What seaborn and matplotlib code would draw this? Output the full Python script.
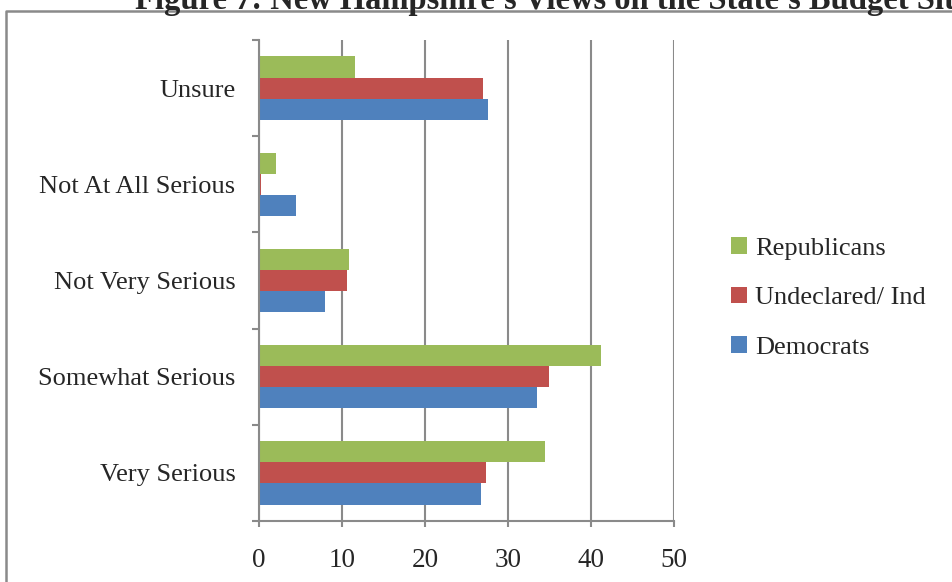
import pandas as pd
import numpy as np
import seaborn as sb
import matplotlib.pyplot as plt
from matplotlib.lines import Line2D

# survey answers, top to bottom as in the chart
responses = ['Unsure', 'Not At All Serious', 'Not Very Serious', 'Somewhat Serious', 'Very Serious']
parties = ['Republicans', 'Undeclared/ Ind', 'Democrats']

republicans = [11.6, 2.1, 10.8, 41.2, 34.4]
undeclared = [27.0, 0.2, 10.6, 35.0, 27.3]
democrats = [27.6, 4.4, 8.0, 33.5, 26.7]

party_colors = ['#9BBB59', '#C0504D', '#4F81BD']
title = "Figure 7: New Hampshire's Views on the State's Budget Situation"

rows = []
for party, vals in zip(parties, [republicans, undeclared, democrats]):
    for resp, v in zip(responses, vals):
        rows.append({'Response': resp, 'Party': party, 'Percent': v})
data = pd.DataFrame(rows)

sb.set_style('white')
plt.rcParams['font.family'] = ['Liberation Serif', 'DejaVu Serif']

fig = plt.figure(figsize=(9.53, 5.82), dpi=100)
ax = fig.add_axes([259/953, 1 - 521/582, (674 - 259)/953, (521 - 40)/582])

sb.barplot(data=data, y='Response', x='Percent', hue='Party', orient='h',
           order=responses, hue_order=parties, palette=party_colors,
           width=0.66, ax=ax, saturation=1, linewidth=0)

grid_col = '#8a8a8a'
ax.set_xlim(0, 50)
ax.set_ylim(4.5, -0.5)
ax.set_xticks(np.arange(0, 51, 10))
ax.xaxis.grid(True, color=grid_col, lw=1.5)
ax.set_axisbelow(True)
ax.set_xlabel('')
ax.set_ylabel('')

for s in ['top', 'right']:
    ax.spines[s].set_visible(False)
for s in ['left', 'bottom']:
    ax.spines[s].set_color(grid_col)
    ax.spines[s].set_linewidth(1.5)

# category boundary ticks on the y axis
ax.set_yticks(np.arange(-0.5, 5, 1), minor=True)
ax.tick_params(axis='y', which='major', length=0, pad=17, labelsize=19)
ax.tick_params(axis='y', which='minor', length=5, width=1.5, color=grid_col, left=True)
ax.tick_params(axis='x', which='major', length=4.5, width=1.5, color=grid_col,
               bottom=True, pad=15, labelsize=19.5)

leg = ax.legend(loc='center left', bbox_to_anchor=(731/953, 1 - 298/582),
                bbox_transform=fig.transFigure, frameon=False, fontsize=19,
                handlelength=0.6, handleheight=0.6, handletextpad=0.3,
                labelspacing=1.02, borderpad=0, borderaxespad=0)

fig.text(135/953, 1 - 9/582, title, fontsize=23.5, fontweight='bold',
         family='Liberation Serif', va='baseline', ha='left')

# frame of the embedded chart
fig.add_artist(Line2D([6/953, 6/953, 1.01], [-0.01, 1 - 11/582, 1 - 11/582],
                      transform=fig.transFigure, color=grid_col, lw=1.8))

plt.savefig('out.png', dpi=100)
